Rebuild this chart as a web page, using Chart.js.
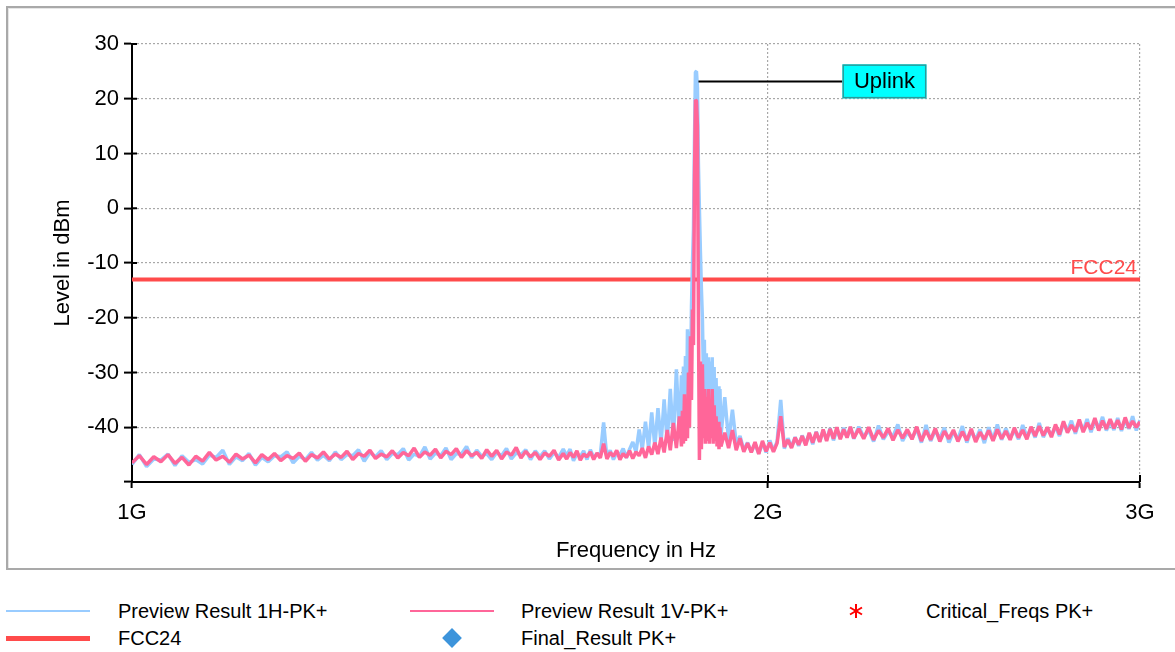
<!DOCTYPE html>
<html>
<head>
<meta charset="utf-8">
<script src="https://cdn.jsdelivr.net/npm/chart.js@4.4.1/dist/chart.umd.min.js"></script>
<style>
  body { margin: 0; background: #fff; width: 1175px; height: 652px; overflow: hidden; position: relative;
         font-family: "Liberation Sans", Arial, Helvetica, sans-serif; }
  #frame { position: absolute; left: 6px; top: 6px; width: 1200px; height: 560px;
           border: 2px solid #a9a9a9; border-right: none; box-shadow: inset 1px 1px 0 #e6e6e6; }
  #wrap { position: absolute; left: 0; top: 0; width: 1175px; height: 575px; }
  .lg-text { position: absolute; font-size: 20px; line-height: 24px; color: #000; white-space: nowrap; }
  .lg-mark { position: absolute; }
</style>
</head>
<body>
<div id="frame"></div>
<div id="wrap"><canvas id="ChartSpectrum" width="1175" height="575"></canvas></div>
<div id="legend"></div>
<script>
// Frecuencias en MHz
const frequencies = [
  1000,1008,1016,1024,1032,1040,1048,1056,1064,1072,
  1080,1088,1096,1104,1112,1120,1128,1136,1144,1152,
  1160,1168,1176,1184,1192,1200,1208,1216,1224,1232,
  1240,1248,1256,1264,1272,1280,1288,1296,1304,1312,
  1320,1328,1336,1344,1352,1360,1368,1376,1384,1392,
  1400,1408,1416,1424,1432,1440,1448,1456,1464,1472,
  1480,1488,1496,1504,1512,1520,1528,1536,1544,1552,
  1560,1568,1576,1584,1592,1600,
  1606,1612,1618,1624,1630,1636,1642,1648,1654,1660,
  1666,1672,1678,1684,1690,1696,1702,1708,1714,1720,
  1726,1732,1738,1744,1750,1756,1762,1768,1774,1780,
  1786,1792,1798,1804,1810,1816,
  1820,1822,1824,1826,1828,1830,1832,1834,1836,1838,
  1840,1842,1844,1846,1848,1850,1852,1854,1856,1858,
  1860,1862,1864,1866,1868,1870,1872,1874,1876,1878,
  1880,1882,1884,1886,1888,1890,1892,1894,1896,1898,
  1900,
  1908,1916,1924,1932,1940,1948,1956,1964,1972,1980,
  1988,1996,2004,2012,2020,2028,2036,2044,2052,2060,
  2068,2076,2084,2092,2100,2108,2116,2124,2132,2140,
  2148,2156,2164,2172,2180,2188,2196,
  2208,2220,2232,2244,2256,2268,2280,2292,2304,2316,
  2328,2340,2352,2364,2376,2388,2400,2412,2424,2436,
  2448,2460,2472,2484,2496,2508,2520,2532,2544,2556,
  2568,2580,2592,2604,2616,2628,2640,2652,2664,2676,
  2688,2700,2712,2724,2736,2748,2760,2772,2784,2796,
  2808,2820,2832,2844,2856,2868,2880,2892,2904,2916,
  2928,2940,2952,2964,2976,2988,3000
];

// Preview Result 1H-PK+ (dBm)
const level1H = [
  -46.8,-45.0,-47.2,-45.8,-46.0,-44.9,-47.0,-45.2,-46.4,-45.9,
  -46.7,-45.1,-45.5,-44.2,-46.8,-45.4,-46.1,-44.8,-46.9,-45.5,
  -46.3,-45.2,-45.4,-44.5,-46.5,-45.3,-45.9,-44.6,-46.0,-45.1,
  -46.1,-44.5,-45.9,-45.0,-45.2,-44.1,-46.2,-44.6,-45.4,-44.3,
  -45.9,-44.8,-45.0,-43.9,-46.0,-44.9,-45.3,-43.6,-45.8,-44.7,
  -45.2,-43.8,-45.9,-44.8,-44.9,-43.5,-45.6,-44.2,-45.3,-44.8,
  -45.9,-44.6,-45.2,-43.9,-45.8,-44.7,-45.0,-44.1,-45.9,-44.3,
  -45.4,-44.3,-45.8,-44.6,-45.5,-44.0,
  -45.2,-44.0,-46.1,-44.8,-45.4,-44.3,-45.9,-44.1,-45.5,-44.9,
  -45.0,-39.1,-45.7,-44.2,-45.9,-44.6,-45.0,-43.9,-45.6,-44.0,
  -42.7,-44.5,-40.4,-44.0,-39.0,-43.8,-37.3,-43.5,-36.5,-43.0,
  -34.9,-42.8,-33.0,-42.5,-29.4,-42.0,
  -30.5,-42.0,-28.9,-41.0,-27.0,-40.0,-22.1,-38.0,-22.5,-33.0,
  -18.0,-10.0,-3.9,12.0,24.9,25.0,22.0,8.0,-0.3,-8.0,
  -14.8,-20.0,-30.0,-24.0,-38.0,-26.5,-40.0,-27.2,-41.0,-28.0,
  -39.5,-27.2,-40.5,-29.0,-41.5,-31.0,-40.0,-32.5,-42.0,-33.0,
  -41.5,
  -34.5,-42.5,-36.8,-43.0,-41.6,-44.2,-42.8,-44.5,-43.0,-44.8,
  -42.9,-44.6,-42.4,-44.3,-42.6,-35.0,-43.9,-42.0,-43.6,-41.8,
  -43.4,-41.5,-43.0,-41.2,-43.1,-40.8,-42.6,-40.6,-42.3,-40.2,
  -42.4,-40.5,-42.0,-40.1,-41.8,-40.0,-42.1,
  -39.9,-41.8,-40.5,-42.6,-39.7,-42.2,-40.8,-41.7,-39.5,-42.5,
  -40.9,-42.0,-40.3,-42.8,-39.6,-42.5,-40.6,-42.0,-40.1,-42.8,
  -40.8,-42.2,-39.8,-42.8,-40.6,-42.3,-40.4,-42.9,-40.0,-42.3,
  -39.5,-42.3,-40.2,-42.0,-40.5,-42.2,-39.6,-41.8,-40.2,-41.9,
  -39.2,-41.8,-40.3,-41.4,-39.9,-41.6,-39.2,-40.7,-38.8,-41.2,
  -39.0,-40.6,-38.5,-40.9,-38.7,-40.2,-38.1,-40.6,-39.0,-40.5,
  -38.3,-40.7,-38.6,-40.3,-38.0,-40.6,-38.7
];

// Preview Result 1V-PK+ (dBm)
const level1V = [
  -46.5,-45.2,-46.8,-45.4,-46.3,-45.0,-46.6,-45.5,-46.9,-45.3,
  -46.2,-44.6,-46.0,-45.3,-46.4,-44.9,-45.8,-45.1,-46.5,-45.0,
  -45.9,-44.8,-46.1,-45.2,-45.7,-44.7,-46.2,-45.0,-45.6,-44.5,
  -45.8,-44.9,-45.5,-44.4,-45.9,-44.8,-45.3,-44.2,-45.7,-44.9,
  -45.4,-44.3,-45.6,-44.6,-45.2,-43.8,-45.5,-44.5,-45.1,-44.0,
  -45.6,-44.4,-45.0,-43.9,-45.5,-44.3,-45.2,-44.6,-45.7,-44.1,
  -45.3,-44.2,-45.8,-44.5,-45.1,-43.7,-45.6,-44.4,-45.4,-44.6,
  -45.9,-44.7,-45.3,-44.2,-46.0,-44.8,
  -45.8,-44.6,-45.5,-44.3,-46.0,-44.9,-45.4,-44.5,-45.9,-44.7,
  -45.6,-43.0,-45.8,-44.6,-45.3,-44.2,-45.9,-44.8,-45.5,-44.3,
  -45.7,-44.5,-45.2,-43.8,-45.6,-43.5,-45.0,-42.8,-44.9,-41.9,
  -44.6,-40.5,-44.2,-39.2,-43.8,-38.0,
  -43.5,-37.0,-43.0,-34.0,-42.5,-35.5,-42.0,-30.0,-40.0,-23.4,
  -35.0,-18.5,-25.0,5.0,19.8,19.6,15.0,-20.0,-46.0,-28.0,
  -44.0,-28.5,-42.0,-33.0,-43.0,-34.5,-42.5,-33.0,-43.0,-35.0,
  -42.0,-33.0,-43.0,-36.0,-42.5,-38.0,-43.5,-39.0,-44.0,-40.0,
  -43.5,
  -41.0,-43.8,-40.5,-44.2,-42.0,-44.5,-42.9,-44.6,-42.7,-44.9,
  -42.5,-44.4,-42.8,-44.5,-42.9,-38.0,-43.6,-42.3,-43.8,-41.9,
  -43.2,-41.6,-43.3,-41.0,-42.8,-40.9,-42.7,-40.4,-42.5,-40.3,
  -42.1,-40.0,-42.2,-40.4,-41.9,-39.9,-42.0,
  -40.3,-42.1,-40.0,-42.3,-40.6,-41.9,-40.2,-42.4,-40.5,-42.0,
  -40.4,-42.2,-39.9,-42.5,-40.6,-42.3,-40.2,-42.6,-40.7,-42.1,
  -40.5,-42.6,-40.8,-42.4,-40.3,-42.7,-40.9,-42.2,-40.6,-42.5,
  -40.4,-42.1,-40.7,-42.3,-40.1,-41.9,-40.5,-42.2,-39.9,-41.6,
  -39.8,-41.5,-40.0,-41.8,-39.5,-41.3,-38.9,-41.0,-39.6,-40.8,
  -38.6,-40.9,-39.2,-40.4,-38.3,-40.6,-38.8,-40.3,-38.5,-40.2,
  -38.7,-40.4,-38.2,-40.1,-38.9,-40.0,-39.0
];

// Limite FCC24
const limitFreqs = [1000, 3000];
const limitLevels = [-13, -13];

// Ejes
const xTickValues = [1000, 2000, 3000];
const xTickLabels = ["1G", "2G", "3G"];
const yMin = -50;
const yMax = 30;

const colorH = "#99ccff";
const colorV = "#ff6699";
const colorLimit = "#ff4b4b";
const fontName = '"Liberation Sans", Arial, Helvetica, sans-serif';

function toPoints(xs, ys) {
  return xs.map((f, i) => ({ x: f, y: ys[i] }));
}

// Dibuja marcas internas de los ejes, etiqueta FCC24 y el cuadro Uplink
const markersPlugin = {
  id: "markers",
  afterDatasetsDraw(chart) {
    const { ctx, chartArea, scales } = chart;
    const x = scales.x;
    const y = scales.y;
    ctx.save();
    ctx.strokeStyle = "#000";
    ctx.lineWidth = 2;
    y.ticks.forEach((t) => {
      const py = y.getPixelForValue(t.value);
      ctx.beginPath();
      ctx.moveTo(chartArea.left, py);
      ctx.lineTo(chartArea.left + 5, py);
      ctx.stroke();
    });
    x.ticks.forEach((t) => {
      const px = x.getPixelForValue(t.value);
      ctx.beginPath();
      ctx.moveTo(px, chartArea.bottom);
      ctx.lineTo(px, chartArea.bottom - 7);
      ctx.stroke();
    });

    // etiqueta del limite
    ctx.fillStyle = colorLimit;
    ctx.font = "21px " + fontName;
    ctx.textAlign = "right";
    ctx.textBaseline = "alphabetic";
    ctx.fillText("FCC24", chartArea.right - 3, y.getPixelForValue(limitLevels[1]) - 5);

    // cuadro Uplink en el pico
    let peak = 0;
    level1H.forEach((v, i) => { if (v > level1H[peak]) peak = i; });
    const px = x.getPixelForValue(frequencies[peak]) + 2;
    const py = y.getPixelForValue(level1H[peak]);
    const bw = 84, bh = 34;
    const bx = px + 144, by = py - 7;
    ctx.strokeStyle = "#000";
    ctx.lineWidth = 2;
    ctx.beginPath();
    ctx.moveTo(px, by + bh / 2);
    ctx.lineTo(bx, by + bh / 2);
    ctx.stroke();
    ctx.fillStyle = "#00ffff";
    ctx.fillRect(bx, by, bw, bh);
    ctx.strokeStyle = "#2a9a9a";
    ctx.lineWidth = 1.5;
    ctx.strokeRect(bx + 0.75, by + 0.75, bw - 1.5, bh - 1.5);
    ctx.fillStyle = "#000";
    ctx.font = "22px " + fontName;
    ctx.textAlign = "center";
    ctx.textBaseline = "middle";
    ctx.fillText("Uplink", bx + bw / 2, by + bh / 2 + 1);
    ctx.restore();
  },
};

const ctx = document.getElementById("ChartSpectrum");
const axisFont = { family: fontName, size: 22 };

const spectrum = new Chart(ctx, {
  type: "line",
  data: {
    datasets: [
      {
        label: "Preview Result 1V-PK+",
        data: toPoints(frequencies, level1V),
        borderColor: colorV,
        borderWidth: 3.5,
        borderJoinStyle: "bevel",
        pointRadius: 0,
        tension: 0,
        order: 1,
      },
      {
        label: "Preview Result 1H-PK+",
        data: toPoints(frequencies, level1H),
        borderColor: colorH,
        borderWidth: 3.5,
        borderJoinStyle: "bevel",
        pointRadius: 0,
        tension: 0,
        order: 2,
      },
      {
        label: "FCC24",
        data: toPoints(limitFreqs, limitLevels),
        borderColor: colorLimit,
        borderWidth: 4,
        pointRadius: 0,
        order: 3,
      },
      { label: "Critical_Freqs PK+", data: [], borderColor: "#ff0000", showLine: false, pointStyle: "star", order: 4 },
      { label: "Final_Result PK+", data: [], backgroundColor: "#3d94db", showLine: false, pointStyle: "rectRot", order: 5 },
    ],
  },
  options: {
    responsive: false,
    animation: false,
    devicePixelRatio: 1,
    layout: { padding: { left: 0, top: 44, right: 35, bottom: 0 } },
    plugins: { legend: { display: false }, tooltip: { enabled: false } },
    scales: {
      x: {
        type: "logarithmic",
        min: 1000,
        max: 3000,
        afterBuildTicks: (s) => { s.ticks = xTickValues.map((v) => ({ value: v })); },
        afterFit: (s) => { s.height = 93; },
        ticks: {
          callback: (v, i) => xTickLabels[i],
          color: "#000",
          font: axisFont,
          padding: 12,
          maxRotation: 0,
          autoSkip: false,
        },
        grid: { color: "#a8a8a8", lineWidth: 1.2, tickColor: "#000", tickLength: 6, tickWidth: 2 },
        border: { color: "#000", width: 2, dash: [2, 2] },
        title: { display: true, text: "Frequency in Hz", color: "#000", font: axisFont, padding: { bottom: 11 } },
      },
      y: {
        min: yMin,
        max: yMax,
        afterFit: (s) => { s.width = 132; },
        ticks: {
          stepSize: 5,
          callback: (v) => (v % 10 === 0 && v > yMin ? String(v) : ""),
          color: "#000",
          font: axisFont,
          padding: 5,
        },
        grid: { color: "#a8a8a8", lineWidth: 1.2, tickColor: "#000", tickLength: 8, tickWidth: 2 },
        border: { color: "#000", width: 2, dash: [2, 2] },
        title: { display: true, text: "Level in dBm", color: "#000", font: axisFont, padding: { top: 50 } },
      },
    },
  },
  plugins: [markersPlugin],
});

// Leyenda en HTML, dos filas
function addLegend(label, markKind, markX, textX, rowY) {
  const legend = document.getElementById("legend");
  const mark = document.createElement("div");
  mark.classList.add("lg-mark");
  if (markKind === "lineH" || markKind === "lineV" || markKind === "lineLimit") {
    const h = markKind === "lineLimit" ? 5 : 2;
    const c = markKind === "lineH" ? colorH : markKind === "lineV" ? colorV : colorLimit;
    mark.style.left = markX + "px";
    mark.style.top = rowY - h / 2 + "px";
    mark.style.width = "84px";
    mark.style.height = h + "px";
    mark.style.background = c;
  } else if (markKind === "diamond") {
    mark.style.left = markX - 7 + "px";
    mark.style.top = rowY - 7 + "px";
    mark.style.width = "14px";
    mark.style.height = "14px";
    mark.style.background = "#3d94db";
    mark.style.transform = "rotate(45deg)";
  } else {
    mark.innerHTML =
      '<svg width="16" height="16" viewBox="0 0 16 16"><g stroke="#ff0000" stroke-width="2">' +
      '<line x1="8" y1="1" x2="8" y2="15"/><line x1="2" y1="4.5" x2="14" y2="11.5"/>' +
      '<line x1="2" y1="11.5" x2="14" y2="4.5"/></g></svg>';
    mark.style.left = markX - 8 + "px";
    mark.style.top = rowY - 8 + "px";
  }
  legend.appendChild(mark);
  const text = document.createElement("div");
  text.classList.add("lg-text");
  text.textContent = label;
  text.style.left = textX + "px";
  text.style.top = rowY - 12 + "px";
  legend.appendChild(text);
}

const ds = spectrum.data.datasets;
addLegend(ds[1].label, "lineH", 6, 118, 611);
addLegend(ds[0].label, "lineV", 410, 521, 611);
addLegend(ds[3].label, "star", 856, 926, 611);
addLegend(ds[2].label, "lineLimit", 6, 118, 638);
addLegend(ds[4].label, "diamond", 452, 521, 638);
</script>
</body>
</html>
